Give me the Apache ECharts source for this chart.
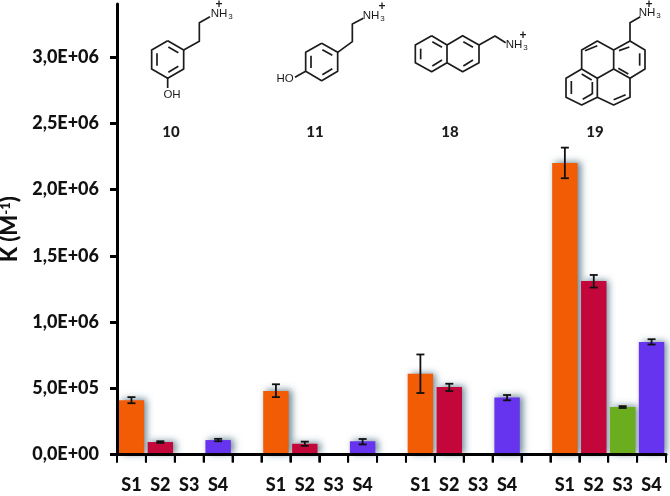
<!DOCTYPE html>
<html><head><meta charset="utf-8">
<style>html,body{margin:0;padding:0;background:#fff}#c{width:670px;height:496px}</style>
<script src="https://cdn.jsdelivr.net/npm/echarts@6/dist/echarts.min.js"></script>
</head><body><div id="c"></div>
<script>
var categories = ['S1','S2','S3','S4','','S1','S2','S3','S4','','S1','S2','S3','S4','','S1','S2','S3','S4'];
var kValues =  [410000,94000,null,109000,null,479000,81000,null,100000,null,610000,509000,null,431000,null,2200000,1310000,358000,850000];
var errLow =   [387000,88000,null,100000,null,433000,65000,null,76000,null,464000,479000,null,409000,null,2085000,1260000,351000,830000];
var errHigh =  [433000,100000,null,118000,null,530000,97000,null,117000,null,755000,534000,null,449000,null,2316000,1355000,365000,870000];
var yTicks = [0,500000,1000000,1500000,2000000,2500000,3000000];
var seriesColors = {S1:'#F25C05',S2:'#C3073A',S3:'#6AAE20',S4:'#6633EE'};
var compoundLabels = [['10',171,132],['11',315,132],['18',450,132],['19',595,132]];

var FONT='Lato, "Open Sans", sans-serif';
var INK='#1c1c1c';
function bonds(ox,paths){return paths.map(function(p){
  return {type:'polyline',silent:true,shape:{points:p.map(function(q){return [ox+q[0]/3,q[1]/3];})},
    style:{stroke:INK,lineWidth:1.7,fill:null,lineJoin:'round'}};});}
function label(x,y,t,size,weight){return {type:'text',silent:true,x:x,y:y,style:{text:t,fill:INK,
  font:(weight||'normal')+' '+size+'px "Liberation Sans", Arial, sans-serif',textAlign:'center',textVerticalAlign:'middle'}};}
function nh3(x,y,px,py){return [label(x,y,'NH',11.5),label(x+11.5,y+3,'3',8),
  {type:'text',silent:true,x:px,y:py,style:{text:'+',fill:INK,font:'bold 12px "Liberation Sans", sans-serif',textAlign:'center',textVerticalAlign:'middle'}}];}

var g=[];
g=g.concat(bonds(0,[
 [[503,122],[551,150],[551,207],[503,235],[455,207],[455,150],[503,122]],
 [[551,150],[598,124],[598,68],[630,50]],
 [[503,235],[503,264]],
 [[471,160],[471,197]],[[505,141],[535,158]],[[505,217],[535,199]]
]));
g=g.concat(nh3(219,14,219,5),[label(172,95,'OH',11.5)]);
g=g.concat(bonds(0,[
 [[965,130],[1013,157],[1013,214],[965,242],[917,214],[917,157],[965,130]],
 [[1013,157],[1057,125],[1057,72],[1090,55]],
 [[917,214],[885,232]],
 [[933,167],[933,204]],[[967,149],[997,166]],[[967,224],[997,206]]
]));
g=g.concat(nh3(371,16,382,7),[label(285,79,'HO',11.5)]);
g=g.concat(bonds(335,[
 [[290,107],[336,135],[336,188],[290,215],[241,188],[241,135],[290,107]],
 [[336,135],[383,107],[432,135],[432,188],[383,215],[336,188]],
 [[432,135],[480,108],[512,128]],
 [[257,146],[257,178]],[[292,125],[321,142]],[[292,198],[321,180]],
 [[385,125],[414,142]],[[385,198],[414,180]]
]));
g=g.concat(nh3(514,45,523,36));
g=g.concat(bonds(335,[
 [[885,123],[930,150],[930,207],[885,235],[836,207],[836,150],[885,123]],
 [[885,123],[885,68],[916,50]],
 [[836,150],[787,123],[740,150],[740,207],[787,235],[836,207]],
 [[740,207],[693,235],[693,292],[740,315],[787,292],[787,235]],
 [[787,292],[836,315],[885,292],[885,235]],
 [[750,152],[787,137]],[[914,160],[914,197]],[[852,152],[883,141]],[[850,205],[880,222]],
 [[709,243],[709,282]],[[740,222],[770,240]],[[743,298],[772,281]],[[772,246],[772,282]],
 [[836,299],[872,284]]
]));
g=g.concat(nh3(647,13,649,5));
compoundLabels.forEach(function(c){var t=label(c[1],c[2],c[0],15);t.style.font='900 15px '+FONT;g.push(t);});

var chart=echarts.init(document.getElementById('c'),null,{renderer:'canvas'});
chart.setOption({
 animation:false,
 backgroundColor:'#fff',
 grid:{left:117,right:4,top:4,bottom:41.5,outerBoundsMode:'none'},
 xAxis:{type:'category',data:categories,z:6,
   axisLine:{lineStyle:{color:'#000',width:3}},
   axisTick:{show:true,interval:0,length:8,lineStyle:{color:'#000',width:2}},
   axisLabel:{interval:0,color:'#111',fontFamily:FONT,fontWeight:900,fontSize:18,margin:22}},
 yAxis:{type:'value',min:0,max:3400000,z:6,
   name:'K (M{sup|-1})',nameLocation:'middle',nameGap:91,nameRotate:90,
   nameTextStyle:{color:'#111',fontFamily:FONT,fontWeight:900,fontSize:22,
     rich:{sup:{fontFamily:FONT,fontWeight:900,fontSize:13,verticalAlign:'top',lineHeight:16,color:'#111'}}},
   axisLine:{show:true,lineStyle:{color:'#000',width:3}},
   axisTick:{show:true,length:7,lineStyle:{color:'#000',width:3},customValues:yTicks},
   axisLabel:{color:'#111',fontFamily:FONT,fontWeight:900,fontSize:18,margin:18,customValues:yTicks,
     formatter:function(v){return v===0?'0,0E+00':v.toExponential(1).replace('.',',').replace(/e\+(\d)$/,'E+0$1');}},
   splitLine:{show:false}},
 graphic:g,
 series:[
  {type:'bar',data:kValues,barWidth:'88%',
   itemStyle:{color:function(p){return seriesColors[categories[p.dataIndex]];},
     shadowColor:'rgba(70,105,125,0.8)',shadowBlur:7,shadowOffsetX:3,shadowOffsetY:-1}},
  {type:'custom',z:5,clip:false,silent:true,
   data:categories.map(function(c,i){return [i,errLow[i],errHigh[i]];}).filter(function(d){return d[1]!==null;}),
   encode:{x:0,y:[1,2]},
   renderItem:function(params,api){
     var x=api.value(0),lo=api.coord([x,api.value(1)]),hi=api.coord([x,api.value(2)]),cap=4;
     var st={stroke:'#111',lineWidth:1.8,fill:null};
     return {type:'group',children:[
       {type:'line',shape:{x1:lo[0],y1:lo[1],x2:hi[0],y2:hi[1]},style:st},
       {type:'line',shape:{x1:lo[0]-cap,y1:lo[1],x2:lo[0]+cap,y2:lo[1]},style:st},
       {type:'line',shape:{x1:hi[0]-cap,y1:hi[1],x2:hi[0]+cap,y2:hi[1]},style:st}]};
   }},
  {type:'custom',z:7,clip:false,silent:true,
   data:categories.map(function(c,i){return [i,0];}),
   encode:{x:0,y:1},
   renderItem:function(params,api){
     var i=api.value(0),p=api.coord([i,0]),half=api.size([1,0])[0]/2,st={stroke:'#000',lineWidth:2};
     var kids=[{type:'line',shape:{x1:p[0]-half,y1:p[1],x2:p[0]-half,y2:p[1]+8},style:st}];
     if(i===categories.length-1){kids.push({type:'line',shape:{x1:p[0]+half,y1:p[1],x2:p[0]+half,y2:p[1]+8},style:st});}
     return {type:'group',children:kids};
   }}
 ]
});
</script></body></html>
